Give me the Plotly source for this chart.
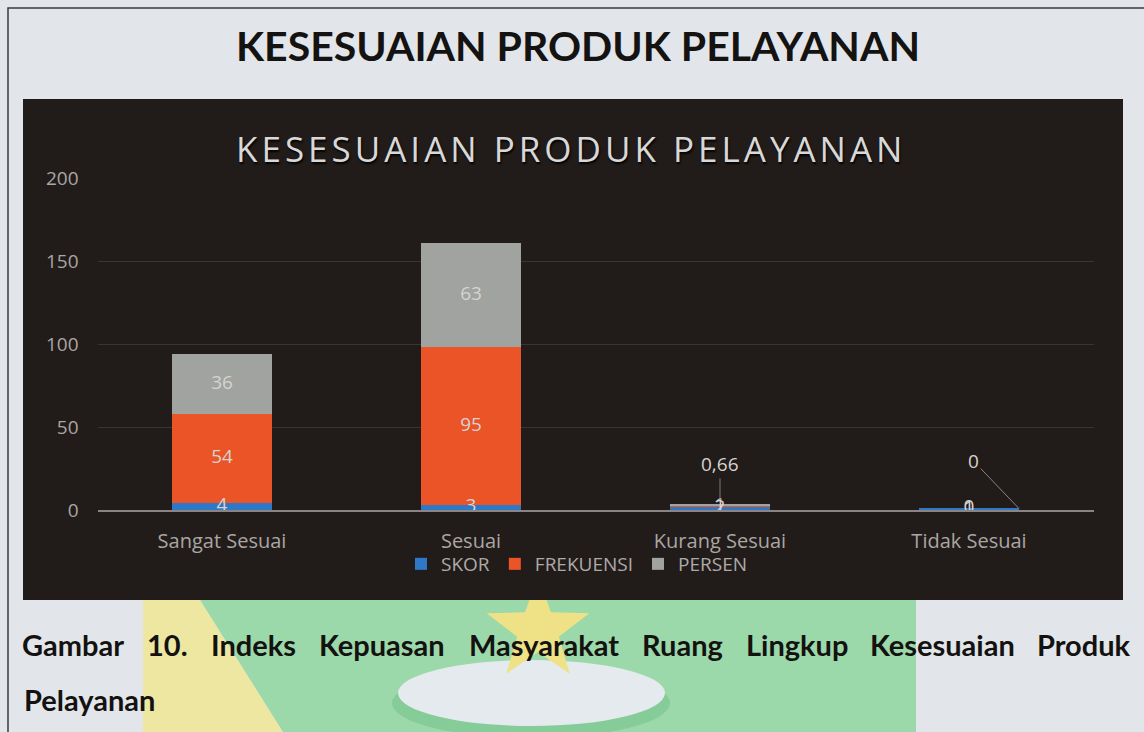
import math
import plotly.graph_objects as go

# ---------------- data ----------------
categories = ["Sangat Sesuai", "Sesuai", "Kurang Sesuai", "Tidak Sesuai"]
skor = [4, 3, 2, 1]
frekuensi = [54, 95, 1, 0]
persen = [36, 63, 0.66, 0]
series_names = ["SKOR", "FREKUENSI", "PERSEN"]
series_colors = ["#2f78c8", "#ea5427", "#a0a3a0"]
y_ticks = [0, 50, 100, 150, 200]

page_title = "KESESUAIAN PRODUK PELAYANAN"
chart_title = "KESESUAIAN PRODUK PELAYANAN"
caption_line1 = ["Gambar", "10.", "Indeks", "Kepuasan", "Masyarakat", "Ruang",
                 "Lingkup", "Kesesuaian", "Produk"]
caption_line2 = "Pelayanan"

W, H = 1144, 732
BARGAP = 0.6


def px(x):
    return x / W


def py(y):
    return 1 - y / H


def fmt(v):
    s = ("%g" % v)
    return s.replace(".", ",")


CHART_FONT = "Open Sans, sans-serif"
fig = go.Figure()

# stacked bars
series_vals = [skor, frekuensi, persen]
for name, vals, col in zip(series_names, series_vals, series_colors):
    fig.add_trace(go.Bar(
        name=name, x=categories, y=vals, marker=dict(color=col, line=dict(width=0)),
        hoverinfo="x+y+name",
    ))

# data labels at segment centres
label_font = dict(family=CHART_FONT, size=19, color="#d6d3d1")
cum = [0] * len(categories)
for si, vals in enumerate(series_vals):
    xs, ys, ts = [], [], []
    for i, v in enumerate(vals):
        centre = cum[i] + v / 2
        if not (si == 2 and v < 5):
            xs.append(categories[i]); ys.append(centre); ts.append(fmt(v))
        cum[i] += v
    fig.add_trace(go.Scatter(
        x=xs, y=ys, text=ts, mode="text", textfont=label_font,
        textposition="middle center", showlegend=False, hoverinfo="skip",
    ))

annotations = []
# callout labels for small PERSEN values
half_bar = (1 - BARGAP) / 2
for i, v in enumerate(persen):
    if v < 5:
        top = cum[i]
        if i == 2:
            annotations.append(dict(x=i, y=top, text=fmt(v), showarrow=True,
                                    ax=0, ay=-40, arrowhead=0, arrowwidth=1,
                                    arrowcolor="#7d7876", standoff=4,
                                    font=label_font, xref="x", yref="y"))
        else:
            annotations.append(dict(x=i + half_bar, y=top, text=fmt(v), showarrow=True,
                                    ax=-45, ay=-47, arrowhead=0, arrowwidth=1,
                                    arrowcolor="#8a8583", standoff=0,
                                    font=label_font, xref="x", yref="y"))

# titles
annotations.append(dict(x=px(578), y=py(45), xref="paper", yref="paper", text="<b>" + page_title + "</b>",
                        showarrow=False, xanchor="center", yanchor="middle",
                        font=dict(family="Lato, Carlito, sans-serif", size=41, color="#151312")))
annotations.append(dict(x=px(571), y=py(148), xref="paper", yref="paper",
                        text='<span style="letter-spacing:4px">' + chart_title + "</span>",
                        showarrow=False, xanchor="center", yanchor="middle",
                        font=dict(family="Open Sans, sans-serif", size=35, color="#d8d8d8",
                                  shadow="1px 2px 2px rgba(0,0,0,0.9)")))

# caption (justified first line)
cap_size = 29
cap_font = dict(family="Lato, Carlito, sans-serif", size=cap_size, color="#141210")
em = {"Gambar": 3.32, "10.": 1.28, "Indeks": 2.73, "Kepuasan": 4.05, "Masyarakat": 4.89,
      "Ruang": 2.6, "Lingkup": 3.24, "Kesesuaian": 4.66, "Produk": 2.99}
left, right = 22, 1130
widths = [em[w] * cap_size * 1.06 for w in caption_line1]
gap = (right - left - sum(widths)) / (len(caption_line1) - 1)
xcur = left
for w, wd in zip(caption_line1, widths):
    annotations.append(dict(x=px(xcur + wd / 2), y=py(644), xref="paper", yref="paper",
                            text="<b>" + w + "</b>", showarrow=False, xanchor="center",
                            yanchor="middle", font=cap_font))
    xcur += wd + gap
annotations.append(dict(x=px(22), y=py(699), xref="paper", yref="paper",
                        text="<b>" + caption_line2 + "</b>", showarrow=False, xanchor="left",
                        yanchor="middle", font=cap_font))

# background decorations (watermark + chart panel + page border)
shapes = []


def poly(points, color):
    d = "M " + " L ".join("%f,%f" % (px(a), py(b)) for a, b in points) + " Z"
    return dict(type="path", path=d, xref="paper", yref="paper", fillcolor=color,
                line=dict(width=0), layer="below")


shapes.append(poly([(143, 560), (175, 560), (283, 732), (143, 732)], "#eee7a2"))
shapes.append(poly([(175, 560), (916, 560), (916, 732), (283, 732)], "#9bd8aa"))
# dome
shapes.append(dict(type="circle", xref="paper", yref="paper", x0=px(392), x1=px(670),
                   y0=py(668), y1=py(738), fillcolor="#86cc98", line=dict(width=0), layer="below"))
shapes.append(dict(type="circle", xref="paper", yref="paper", x0=px(398), x1=px(665),
                   y0=py(660), y1=py(726), fillcolor="#e4eaee", line=dict(width=0), layer="below"))
# star
cx, cy, r1, r2 = 538, 630, 54, 22
pts = []
for k in range(10):
    ang = -math.pi / 2 + k * math.pi / 5
    r = r1 if k % 2 == 0 else r2
    pts.append((cx + r * math.cos(ang), cy + r * math.sin(ang)))
shapes.append(poly(pts, "#efe185"))
# chart panel
shapes.append(dict(type="rect", xref="paper", yref="paper", x0=px(23), x1=px(1123),
                   y0=py(600), y1=py(99), fillcolor="#211c1a", line=dict(width=0), layer="below"))
# page border
shapes.append(dict(type="path", xref="paper", yref="paper",
                   path="M %f,%f L %f,%f L %f,%f" % (px(8), py(732), px(8), py(8), px(1144), py(8)),
                   line=dict(color="#3a3a3a", width=1.5), layer="below"))

fig.update_layout(
    width=W, height=H, margin=dict(l=0, r=0, t=0, b=0, pad=0, autoexpand=False),
    paper_bgcolor="#e2e6ea", plot_bgcolor="rgba(0,0,0,0)",
    barmode="stack", bargap=BARGAP,
    separators=",.",
    showlegend=True,
    legend=dict(orientation="h", x=px(577), y=py(564), xanchor="center", yanchor="middle",
                font=dict(family=CHART_FONT, size=19, color="#aeaaa8"),
                bgcolor="rgba(0,0,0,0)", traceorder="normal", itemwidth=30),
    xaxis=dict(domain=[px(97.5), px(1093.5)], showgrid=False, showline=True,
               linecolor="#8a8583", linewidth=1.5, ticks="", zeroline=False,
               tickfont=dict(family=CHART_FONT, size=20, color="#aaa6a4"),
               ticklabelstandoff=12, fixedrange=True, automargin=False),
    yaxis=dict(domain=[py(510), py(178)], range=[0, 200], tickvals=y_ticks,
               showgrid=True, gridcolor="#3a3432", gridwidth=1, zeroline=False,
               showline=False, ticks="",
               tickfont=dict(family=CHART_FONT, size=19, color="#aaa6a4"),
               ticklabelstandoff=18, fixedrange=True, automargin=False),
    annotations=annotations,
    shapes=shapes,
)

fig.write_html("out.html", config={"displayModeBar": False},
               post_script="document.body.style.margin='0px';document.body.style.overflow='hidden';")
